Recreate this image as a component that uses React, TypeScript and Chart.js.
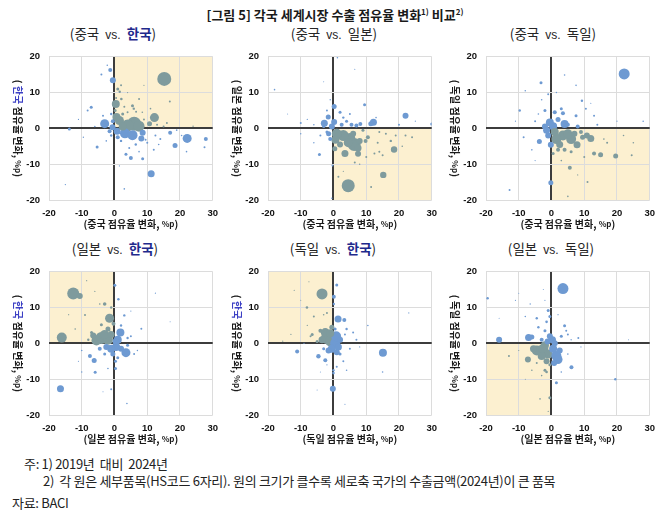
import React, { useEffect, useRef } from "react";
import { Chart, registerables } from "chart.js";

Chart.register(...registerables);

// ---------- data (x = horizontal-country share change %p, y = vertical-country share change %p, r = bubble size) ----------
const cnKrX = [15.2, 12.2, 22.2, 11.2, -3.0, -0.5, -1.3, 0.4, 0.6, 1.5, 6.0, 4.0, 7.5, 3.2, 5.5, 8.2, 8.6, 0.8, -0.6, 2.5, 10.7, 18.5, 27.9, 17.0, 5.0, 3.5, 8.6, 1.0, 1.6, 2.1, -5.3, -7.1, -8.2, -13.8, -4.0, -2.2, 5.5, 5.9, 6.6, 7.5, 12.5, 14.0, 16.0, 16.9, 12.0, 22.0, 27.5, -15.0, 3.0, 10.0, 9.5, 2.0, -1.0, -2.0, -3.5, -1.0, 0.2, 2.5, 4.0, 3.0, 9.0, 13.0, 15.0, 19.0, 24.0, 2.0, -9.5, -6.0, -11.0, 6.5, 4.5, 7.5, 13.5, 20.5, 11.0, 8.5, 1.5, -2.5, 0.5, 4.0, 9.0, -0.5, 1.0, -1.5];
const cnKrY = [13.8, 3.0, -2.8, -12.7, 1.3, 13.4, 16.3, 6.8, 3.2, 2.2, 1.3, 0.8, 0.6, -1.4, -1.9, -2.8, -1.2, -0.8, 0.3, 0.5, 1.3, -4.8, -3.0, -1.2, -8.3, -7.2, -8.5, 11.0, 10.2, 8.2, -5.2, 5.9, 5.0, -0.2, 15.0, 17.6, 6.3, 5.5, 4.6, 8.2, -2.0, -3.0, 1.5, 7.5, -6.0, -6.5, -5.3, -15.7, -16.9, -4.0, -3.2, -3.5, -2.0, 1.0, 3.5, 4.0, 5.0, 4.0, 4.5, 6.0, 2.5, 1.0, 0.5, -0.5, 0.6, 12.0, -2.5, 0.5, 2.5, -4.5, -5.5, -6.5, -4.5, -2.0, 5.5, 4.5, -10.5, -3.5, 8.5, 10.0, 12.0, 2.0, -2.5, -0.8];
const cnKrR = [7, 4.5, 4.5, 3.5, 4.5, 3, 2, 4, 4, 4.5, 7, 6, 5.5, 5, 5, 3, 3, 3.5, 3, 4, 2.5, 2.5, 2, 2, 2, 1.5, 1.5, 1.5, 1.2, 1.3, 1.5, 1.5, 1, 1.5, 1, 0.8, 1.5, 1.2, 1, 1, 1, 1, 1, 1, 1, 0.8, 1, 0.7, 0.8, 1, 1, 1.2, 1.2, 1, 1, 1.2, 1.5, 1.5, 1, 1, 1, 1, 1, 0.8, 0.7, 1, 0.7, 0.8, 0.6, 1.2, 1, 0.8, 0.8, 0.8, 0.8, 0.8, 0.6, 0.8, 1, 0.6, 0.6, 2, 2, 2];

const cnJpX = [4.5, 15.2, 18.5, 3.5, 7.5, 6.3, 5.0, 3.0, 1.0, 0.6, 8.0, 10.5, 9.8, 0.4, 22.0, 12.2, 11.4, -2.8, -1.6, 0.2, 0.2, 9.5, 5.5, 7.0, 8.2, 30.0, -10.0, -4.3, -18.0, 1.2, 6.5, -0.3, 11.5, 1.5, -0.5, 22.0, 24.0, 19.0, 20.0, 16.0, 13.5, 14.0, 17.5, 12.5, 15.0, -1.0, -2.0, -3.0, -4.0, -6.0, -8.0, -10.0, 2.0, 3.0, 4.0, 2.5, -14.0, -3.0, 6.5, 10.0, 4.5, 2.0, 7.5, 6.0, 9.0, -0.5, -1.5, 14.0, 25.0, 21.0, -6.0, -2.0, 5.0, 13.0, 8.0, 3.0, -1.0];
const cnJpY = [-16.0, -13.0, -5.9, -7.0, -7.1, -4.5, -2.8, -2.0, -1.5, -3.2, -3.5, -2.5, -3.5, -5.7, 3.5, 1.7, 1.3, 1.4, 3.2, 6.1, 1.8, 6.6, 1.0, 0.8, 1.2, 1.2, 1.5, -7.3, 10.8, 19.7, 16.5, -10.4, -16.4, -13.5, -19.5, -2.0, -2.5, -2.0, 1.0, -1.5, -4.0, -6.5, -3.5, -7.0, -7.5, -3.0, -1.0, 0.5, -2.0, 1.0, 2.5, -1.5, 4.5, 3.0, 2.0, 1.0, 4.0, 13.0, -9.5, -8.0, -4.0, -4.5, -5.5, -1.5, -0.5, 0.5, -1.5, -1.0, 2.0, -5.0, -4.0, 5.0, 4.0, 3.0, -10.0, -12.0, 8.0];
const cnJpR = [6.5, 3.2, 3.2, 3.5, 3, 6.5, 5.5, 5.5, 5, 4, 3, 2, 2, 2.5, 3, 3.5, 2.5, 3.5, 2.5, 2.5, 3, 1.5, 2, 2, 2, 1.5, 1, 1.5, 0.8, 0.8, 0.6, 1, 1, 1, 0.7, 1, 1, 1, 1, 1, 1, 1, 1.2, 1, 1, 2, 1.5, 1.5, 1, 0.8, 0.6, 0.7, 1.5, 1.2, 1.5, 2, 0.5, 0.5, 1, 1, 4.5, 3, 3.5, 3, 1.5, 3, 2.5, 1, 0.6, 0.8, 0.7, 1, 1, 0.8, 0.7, 0.6, 0.7];

const cnDeX = [22.2, 12.0, 10.8, 4.0, 0.5, -0.5, 3.5, 6.0, 1.5, 7.8, -0.2, -3.7, -1.0, 15.0, 13.0, 19.6, 5.6, -0.2, 3.5, 3.0, 7.5, -3.2, -9.7, -8.5, -12.8, 28.0, 4.0, 7.5, 9.3, 10.5, 13.0, 14.0, 17.0, 22.0, 24.5, 25.0, 11.0, 5.0, -5.0, -6.0, -2.0, -1.0, 1.0, 2.0, 5.0, 8.0, 9.0, 2.0, 4.0, 6.0, 10.0, 0.5, -8.0, -3.0, -1.5, 1.0, 5.0, 2.5, 7.0, 9.5, -2.0, 16.0, 20.0, -11.0, -5.0, 3.0, 12.0, 1.5, 8.0, -4.0];
const cnDeY = [15.2, -2.8, -2.0, 1.2, 0.6, 1.6, -2.0, -3.0, -3.0, -4.6, -4.6, -3.7, -2.0, -7.4, -7.0, -7.7, -11.0, -15.2, 4.2, 5.5, 3.5, 12.7, 5.0, -2.5, -17.2, 2.0, 14.9, 12.0, 7.7, 5.5, 3.5, 1.0, -4.0, -2.0, -7.5, -4.0, -15.0, -19.0, 2.0, -6.0, 5.0, 9.5, 4.5, 2.5, 1.0, 0.5, -1.0, -6.0, -6.0, -6.5, -8.0, -7.0, 10.5, 8.0, -0.5, -1.0, -1.5, -4.5, -1.5, -2.5, 0.5, -3.0, 2.0, 2.0, -9.0, -9.0, 7.0, 10.0, -13.0, 4.0];
const cnDeR = [5.5, 3.5, 3, 4, 4, 4, 5, 5, 5, 3.5, 3, 2.5, 3, 2.5, 2, 2.5, 2, 2.5, 2, 1.5, 1.5, 1.5, 1.2, 1, 1, 0.8, 0.8, 0.8, 1.2, 1, 1, 1, 1, 0.8, 1, 0.8, 1, 0.8, 1, 0.8, 1.5, 1, 2, 2.5, 2, 2, 2, 2, 2, 1.5, 1, 1.5, 0.8, 0.8, 3.5, 4, 4.5, 3.5, 3, 2.5, 3, 0.8, 0.6, 0.6, 0.6, 0.8, 0.6, 0.7, 0.6, 0.8];

const jpKrX = [-12.6, -10.6, -16.1, -16.5, -1.5, -4.0, -2.0, -5.5, 1.8, 3.5, 1.0, 0.5, -1.0, -2.5, -3.0, -6.2, -7.5, -5.9, 0.1, -1.0, 1.2, 3.0, 0.3, 0.3, -1.0, 3.8, -4.0, -4.5, -9.0, -8.5, -10.0, -10.0, -2.0, -3.0, 4.0, 5.0, 8.2, 12.5, 17.0, 2.0, 4.0, -12.0, -7.0, -2.0, -0.3, -3.0, -6.5, -1.0, 0.5, -0.5, 2.0, -4.5, 1.0, 6.0, -8.0, -11.0, -14.0, -6.0, 5.0, -3.5, 7.0, -1.5];
const jpKrY = [13.9, 13.2, 1.6, -12.7, 7.0, 1.5, 1.0, 0.8, 3.0, -2.6, 1.0, -1.0, -1.5, -1.0, 11.0, -4.8, -3.5, -8.1, 16.2, 10.0, 12.3, 7.8, -5.0, -7.0, -12.8, -16.8, 5.2, 11.0, 7.9, 17.5, -2.0, -8.0, -7.0, -3.0, -0.5, 2.0, 4.1, 14.0, 6.0, 5.0, 1.5, 4.0, 3.0, 4.0, 5.5, 2.5, 2.2, 2.5, 0.5, -3.0, -1.5, -1.5, -4.0, -3.0, 1.0, -5.0, 8.0, 14.5, 9.0, -13.5, -2.0, 3.5];
const jpKrR = [6, 3, 5, 3.5, 4.5, 6, 5, 5, 4, 4.5, 4, 4, 4, 3, 1.8, 2.5, 2, 1.5, 1.5, 1.2, 1.2, 1.2, 1.5, 1.5, 1, 0.8, 1.5, 0.8, 1, 0.6, 0.8, 0.7, 0.8, 1.5, 1.5, 1, 1, 0.6, 0.5, 1.2, 1.2, 0.8, 1.5, 2.5, 2, 4.5, 3, 3.5, 3.5, 2.5, 3, 2, 1.5, 1, 1.2, 0.6, 0.6, 0.6, 0.6, 0.5, 0.7, 0.8];

const deKrX = [-3.5, 0.1, 1.4, 3.3, 15.1, -11.1, -4.6, -2.5, -0.2, -2.0, -1.0, 0.5, 0.8, -0.5, 1.5, 1.0, -8.1, -6.0, -2.0, -3.0, -12.0, -7.5, 0.1, 0.0, 0.0, -5.0, 3.5, 15.0, 23.0, 10.5, 6.0, 4.0, 7.0, 5.0, 4.0, -7.0, -6.5, -4.0, -3.0, -13.0, -15.5, -9.0, -4.0, 2.0, 3.0, 1.0, -2.5, -1.0, -3.5, -0.5, 2.0, 1.0, -1.5, -5.0, -8.0, -10.0, 3.5, 8.0, -2.0, 0.5];
const deKrY = [13.8, 13.0, 6.8, 6.5, -2.6, -2.3, -3.6, -4.7, -12.7, 1.5, 0.5, 0.0, 2.0, -1.5, -1.0, 16.3, 10.0, 7.5, 8.5, 8.0, 14.8, 17.2, 11.0, -7.5, -8.3, -13.0, -17.0, -8.0, 8.5, 5.0, 3.0, 4.0, 1.0, -1.5, -7.5, 2.0, 2.5, 3.5, -1.5, 2.5, 0.6, 0.0, -8.0, -3.0, -5.0, -6.5, 3.0, 2.8, 1.0, 4.5, 1.0, -2.5, -2.0, 0.5, 5.0, 12.0, 2.5, -1.0, -6.0, 4.0];
const deKrR = [5.5, 2, 3.5, 2, 4, 2, 2.2, 2, 3, 6, 5, 5, 5, 4, 3.5, 1.5, 1.3, 1, 1, 0.8, 0.6, 0.6, 1.2, 1.2, 1.3, 0.5, 0.6, 0.8, 0.6, 0.8, 1, 1.2, 1, 1, 0.8, 1, 1.5, 2, 1.5, 0.6, 0.6, 0.7, 0.5, 1.5, 1, 1, 4.5, 4, 3.5, 2.5, 3, 3, 3, 1.5, 0.6, 0.5, 1, 0.6, 0.7, 1.5];

const jpDeX = [3.5, -16.0, -7.0, -6.0, -7.2, -4.5, -2.5, -1.0, -2.0, 1.5, 2.0, 0.5, 0.3, -0.5, -1.2, 6.1, 1.5, -0.5, 19.5, -19.5, -1.0, -0.5, -1.5, -4.5, -4.0, -8.0, -6.5, -2.5, 4.0, 4.5, 3.0, 5.0, 8.2, 9.0, -13.0, -3.5, -1.0, -2.0, -1.5, -0.5, -4.5, -10.0, -11.0, -16.0, 23.5, -10.0, -3.0, -5.5, -1.5, 0.8, 2.5, 1.0, -3.0, -2.0, -6.0, -3.0, 3.0, 5.0, 6.0, -8.0, 2.0, -2.0];
const jpDeY = [15.3, 1.0, 1.6, 1.8, -4.5, -2.0, -1.5, -3.0, -0.5, -3.5, -4.5, -1.5, 1.0, 2.0, 0.5, -6.7, -11.0, -15.2, -10.0, 12.6, 9.2, 7.5, 6.0, 7.0, 4.5, 7.5, 11.0, 15.0, 4.9, 3.5, 2.0, 2.5, 1.5, -1.0, -3.5, -15.5, -19.0, -7.5, -8.0, -6.0, -5.5, -2.0, 12.0, 7.0, 1.0, 14.0, -3.5, -1.5, -5.0, -5.5, -2.0, 0.0, 1.0, 3.5, -7.5, -9.0, -8.0, -3.0, 1.0, -10.0, 8.0, 12.0];
const jpDeR = [5.5, 3, 3.5, 2.5, 3, 5, 5, 4.5, 4, 5, 4.5, 4, 3.5, 3, 3, 2, 1.5, 1.5, 1.2, 1.2, 1.5, 1.5, 1.3, 1.2, 1.2, 0.8, 0.7, 0.5, 1.5, 1, 1.5, 1, 1, 0.6, 1, 0.8, 0.6, 1.5, 1.3, 1.5, 1, 0.6, 0.6, 0.5, 0.5, 0.5, 4, 3.5, 3, 3, 3, 3, 2, 1.5, 0.8, 0.8, 0.8, 0.8, 0.7, 0.5, 0.6, 0.6];

const axisMin = { x: -20, y: -20 };
const axisMax = { x: 30, y: 20 };
const tickStep = 10;

const mainTitle = "[그림 5] 각국 세계시장 수출 점유율 변화";
const notes = ["주: 1) 2019년  대비  2024년", "2)  각 원은 세부품목(HS코드 6자리). 원의 크기가 클수록 세로축 국가의 수출금액(2024년)이 큰 품목", "자료: BACI"];

// ---------- styles ----------
const FONT_KR = '"Noto Sans CJK KR", "Noto Sans", sans-serif';
const FONT_NUM = '"Liberation Sans", Arial, sans-serif';
const BLUE = "#6E9AD2";
const GRAY = "#7F9B9D";
const SHADE = "#FCF0D0";
const NAVY = "#1F2A8C";
const AXIS_BLUE = "#3B3FC4";

const PLOT_W = 167;
const PLOT_H = 150;
const Y_AXIS_W = 45;
const X_AXIS_H = 32;
const PAD_TOP = 8;
const PAD_RIGHT = 10;

type PanelDef = {
  xs: number[]; ys: number[]; rs: number[];
  xName: string; yName: string;
  sx: number; sy: number;
  plotLeft: number; plotTop: number;
  titleCx: number; titleTop: number;
};

const panels: PanelDef[] = [
  { xs: cnKrX, ys: cnKrY, rs: cnKrR, xName: "중국", yName: "한국", sx: 1, sy: 1, plotLeft: 49, plotTop: 50, titleCx: 113, titleTop: 25 },
  { xs: cnJpX, ys: cnJpY, rs: cnJpR, xName: "중국", yName: "일본", sx: 1, sy: -1, plotLeft: 268, plotTop: 50, titleCx: 334, titleTop: 25 },
  { xs: cnDeX, ys: cnDeY, rs: cnDeR, xName: "중국", yName: "독일", sx: 1, sy: -1, plotLeft: 486, plotTop: 50, titleCx: 553, titleTop: 25 },
  { xs: jpKrX, ys: jpKrY, rs: jpKrR, xName: "일본", yName: "한국", sx: -1, sy: 1, plotLeft: 49, plotTop: 265, titleCx: 115, titleTop: 240 },
  { xs: deKrX, ys: deKrY, rs: deKrR, xName: "독일", yName: "한국", sx: -1, sy: 1, plotLeft: 268, plotTop: 265, titleCx: 333, titleTop: 240 },
  { xs: jpDeX, ys: jpDeY, rs: jpDeR, xName: "일본", yName: "독일", sx: -1, sy: -1, plotLeft: 486, plotTop: 265, titleCx: 551, titleTop: 240 },
];

function drawSegments(ctx: CanvasRenderingContext2D, segs: { t: string; c: string; f: string }[], cx: number, cy: number, rot: number) {
  ctx.save();
  ctx.translate(cx, cy);
  ctx.rotate(rot);
  ctx.textBaseline = "middle";
  ctx.textAlign = "left";
  let total = 0;
  const widths = segs.map((s) => { ctx.font = s.f; const w = ctx.measureText(s.t).width; total += w; return w; });
  let x = -total / 2;
  segs.forEach((s, i) => { ctx.font = s.f; ctx.fillStyle = s.c; ctx.fillText(s.t, x, 0); x += widths[i]; });
  ctx.restore();
}

function Panel({ p }: { p: PanelDef }) {
  const ref = useRef<HTMLCanvasElement>(null);
  useEffect(() => {
    const canvas = ref.current!;
    const inShade = (v: any) => (p.sx > 0 ? v.x > 0 : v.x < 0) && (p.sy > 0 ? v.y > 0 : v.y < 0);
    const shadePlugin = {
      id: "shade",
      beforeDraw(chart: any) {
        const { ctx, chartArea, scales } = chart;
        const x0 = scales.x.getPixelForValue(0);
        const y0 = scales.y.getPixelForValue(0);
        const l = p.sx > 0 ? x0 : chartArea.left;
        const r = p.sx > 0 ? chartArea.right : x0;
        const t = p.sy > 0 ? chartArea.top : y0;
        const b = p.sy > 0 ? y0 : chartArea.bottom;
        ctx.save();
        ctx.fillStyle = SHADE;
        ctx.fillRect(l, t, r - l, b - t);
        ctx.restore();
      },
    };
    const titlePlugin = {
      id: "axisTitles",
      afterDraw(chart: any) {
        const { ctx, chartArea } = chart;
        const fb = `bold 10px ${FONT_KR}`;
        const fs = `bold 8px ${FONT_KR}`;
        const cxm = (chartArea.left + chartArea.right) / 2;
        const cym = (chartArea.top + chartArea.bottom) / 2;
        drawSegments(ctx, [
          { t: "(" + p.xName + " 점유율 변화, ", c: "#1a1a1a", f: fb },
          { t: "%p", c: "#1a1a1a", f: fs },
          { t: ")", c: "#1a1a1a", f: fb },
        ], cxm, chartArea.bottom + 24, 0);
        drawSegments(ctx, [
          { t: "( ", c: "#1a1a1a", f: fb },
          { t: p.yName, c: p.yName === "한국" ? AXIS_BLUE : "#1a1a1a", f: fb },
          { t: " 점유율 변화, ", c: "#1a1a1a", f: fb },
          { t: "%p", c: "#1a1a1a", f: fs },
          { t: ")", c: "#1a1a1a", f: fb },
        ], chartArea.left - 31, cym, Math.PI / 2);
      },
    };
    const gridColor = (c: any) => (c.tick && c.tick.value === 0 ? "#3c3c3c" : "#dcdcdc");
    const gridWidth = (c: any) => (c.tick && c.tick.value === 0 ? 2 : 1);
    const tickFont = { family: FONT_NUM, size: 9.5, weight: "bold" as const };
    const chart = new Chart(canvas, {
      type: "bubble",
      data: {
        datasets: [{
          data: p.xs.map((x, i) => ({ x, y: p.ys[i], r: p.rs[i] })),
          backgroundColor: (c: any) => (c.raw && inShade(c.raw) ? GRAY : BLUE),
          borderWidth: 0,
          hoverBorderWidth: 0,
        }],
      },
      options: {
        responsive: false,
        animation: false,
        events: [],
        layout: { padding: { top: PAD_TOP, right: PAD_RIGHT, left: 0, bottom: 0 } },
        plugins: { legend: { display: false }, tooltip: { enabled: false } },
        scales: {
          x: {
            type: "linear", min: axisMin.x, max: axisMax.x,
            ticks: { stepSize: tickStep, padding: 8, font: tickFont, color: "#111" },
            grid: { color: gridColor, lineWidth: gridWidth, drawTicks: false },
            border: { display: false },
            afterFit: (s: any) => { s.height = X_AXIS_H; },
          },
          y: {
            type: "linear", min: axisMin.y, max: axisMax.y,
            ticks: { stepSize: tickStep, padding: 9, font: tickFont, color: "#111" },
            grid: { color: gridColor, lineWidth: gridWidth, drawTicks: false },
            border: { display: false },
            afterFit: (s: any) => { s.width = Y_AXIS_W; },
          },
        },
      } as any,
      plugins: [shadePlugin, titlePlugin],
    });
    return () => chart.destroy();
  }, [p]);
  const w = Y_AXIS_W + PLOT_W + PAD_RIGHT;
  const h = PAD_TOP + PLOT_H + X_AXIS_H;
  return (
    <canvas ref={ref} width={w} height={h}
      style={{ position: "absolute", left: p.plotLeft - Y_AXIS_W, top: p.plotTop - PAD_TOP, width: w, height: h }} />
  );
}

function SubTitle({ p }: { p: PanelDef }) {
  return (
    <div style={{ position: "absolute", left: p.titleCx - 100, top: p.titleTop, width: 200, textAlign: "center", fontFamily: FONT_KR, fontSize: 13.5, lineHeight: "16px", color: "#262626", whiteSpace: "pre" }}>
      {"(" + p.xName + "  "}
      <span style={{ fontFamily: FONT_NUM, fontSize: 12 }}>vs.</span>
      {"  "}
      <span style={p.yName === "한국" ? { fontWeight: 700, color: NAVY } : {}}>{p.yName}</span>
      {")"}
    </div>
  );
}

const noteStyle = { position: "absolute" as const, fontFamily: FONT_KR, fontSize: 13, lineHeight: "16px", color: "#222", whiteSpace: "pre" as const, letterSpacing: "-0.3px" };

export default function App() {
  return (
    <div style={{ position: "absolute", left: 0, top: 0, width: 670, height: 516, background: "#fff", overflow: "hidden" }}>
      <div style={{ position: "absolute", left: 0, top: 3, width: 670, textAlign: "center", fontFamily: FONT_KR, fontSize: 13, fontWeight: 700, lineHeight: "18px", color: "#1a1a1a" }}>
        {mainTitle}
        <sup style={{ fontSize: 8, verticalAlign: "5px" }}>1)</sup>
        {" 비교"}
        <sup style={{ fontSize: 8, verticalAlign: "5px" }}>2)</sup>
      </div>
      {panels.map((p, i) => <SubTitle key={"t" + i} p={p} />)}
      {panels.map((p, i) => <Panel key={"c" + i} p={p} />)}
      <div style={{ ...noteStyle, left: 24, top: 456 }}>{notes[0]}</div>
      <div style={{ ...noteStyle, left: 43, top: 473 }}>{notes[1]}</div>
      <div style={{ ...noteStyle, left: 12, top: 495 }}>{notes[2]}</div>
    </div>
  );
}
